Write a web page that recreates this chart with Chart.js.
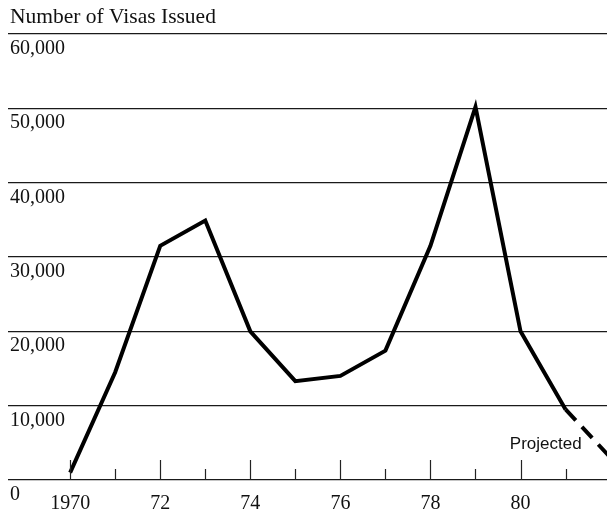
<!DOCTYPE html>
<html>
<head>
<meta charset="utf-8">
<script src="https://cdn.jsdelivr.net/npm/chart.js@4"></script>
<style>
  html, body { margin: 0; padding: 0; background: #ffffff; }
  #wrap { width: 607px; height: 517px; }
</style>
</head>
<body>
<div id="wrap"><canvas id="c" width="607" height="517"></canvas></div>
<script>
// ---- data ----
const years = [1970, 1971, 1972, 1973, 1974, 1975, 1976, 1977, 1978, 1979, 1980, 1981, 1982];
const visas = [1000, 14500, 31500, 34900, 20000, 13300, 14000, 17400, 31500, 50200, 20000, 9500, 3000];
const projectedFromIndex = 11; // segment after 1981 is projected
const tickYears = [1970, 1971, 1972, 1973, 1974, 1975, 1976, 1977, 1978, 1979, 1980, 1981];
const xTickLabels = ['1970', '', '72', '', '74', '', '76', '', '78', '', '80', ''];
const yTickValues = [0, 10000, 20000, 30000, 40000, 50000, 60000];
const yTickLabels = ['0', '10,000', '20,000', '30,000', '40,000', '50,000', '60,000'];
const titleText = 'Number of Visas Issued';
const projectedText = 'Projected';
const projectedAt = { year: 1980.56, value: 4170 };

const SERIF = '"Liberation Serif", "Times New Roman", serif';
const INK = '#111111';

const decor = {
  id: 'decor',
  afterDatasetsDraw(chart) {
    const ctx = chart.ctx;
    const xs = chart.scales.x, ys = chart.scales.y;
    const base = ys.getPixelForValue(0);
    ctx.save();
    // upward tick marks
    ctx.strokeStyle = '#222';
    ctx.lineWidth = 1.2;
    tickYears.forEach((yr, i) => {
      const x = Math.round(xs.getPixelForValue(yr)) + 0.5;
      const h = xTickLabels[i] ? 20 : 11;
      ctx.beginPath();
      ctx.moveTo(x, base);
      ctx.lineTo(x, base - h);
      ctx.stroke();
    });
    // y labels below grid lines
    ctx.fillStyle = INK;
    ctx.font = '20px ' + SERIF;
    ctx.textAlign = 'left';
    ctx.textBaseline = 'alphabetic';
    yTickValues.forEach((v, i) => {
      const y = ys.getPixelForValue(v);
      ctx.fillText(yTickLabels[i], 10, y + 20);
    });
    // title
    ctx.font = '21.5px ' + SERIF;
    ctx.fillText(titleText, 10, 23);
    // projected note
    ctx.font = '17px "Liberation Sans", Arial, sans-serif';
    ctx.textAlign = 'center';
    ctx.fillText(projectedText, xs.getPixelForValue(projectedAt.year), ys.getPixelForValue(projectedAt.value));
    ctx.restore();
  }
};

new Chart(document.getElementById('c'), {
  type: 'line',
  data: {
    datasets: [{
      data: years.map((y, i) => ({ x: y, y: visas[i] })),
      borderColor: '#000',
      borderWidth: 4,
      pointRadius: 0,
      tension: 0,
      borderJoinStyle: 'miter',
      fill: false,
      segment: {
        borderDash: c => (c.p0DataIndex >= projectedFromIndex ? [15, 9] : undefined)
      }
    }]
  },
  options: {
    responsive: false,
    animation: false,
    devicePixelRatio: 1,
    layout: { padding: { top: 34, left: 8, right: 0, bottom: 0 } },
    plugins: { legend: { display: false }, tooltip: { enabled: false }, title: { display: false } },
    scales: {
      x: {
        type: 'linear',
        min: 1968.62,
        max: 1981.92,
        afterBuildTicks: s => { s.ticks = tickYears.map(v => ({ value: v })); },
        afterFit: s => { s.height = 37; },
        grid: { display: false, drawTicks: false },
        border: { display: false },
        ticks: {
          autoSkip: false,
          maxRotation: 0,
          padding: 12,
          color: INK,
          font: { family: SERIF, size: 20 },
          callback: (v, i) => xTickLabels[i]
        }
      },
      y: {
        min: 0,
        max: 60000,
        afterBuildTicks: s => { s.ticks = yTickValues.map(v => ({ value: v })); },
        afterFit: s => { s.width = 0; },
        grid: { color: '#1a1a1a', lineWidth: 1.2, drawTicks: false },
        border: { display: false },
        ticks: { display: false }
      }
    }
  },
  plugins: [decor]
});
</script>
</body>
</html>
